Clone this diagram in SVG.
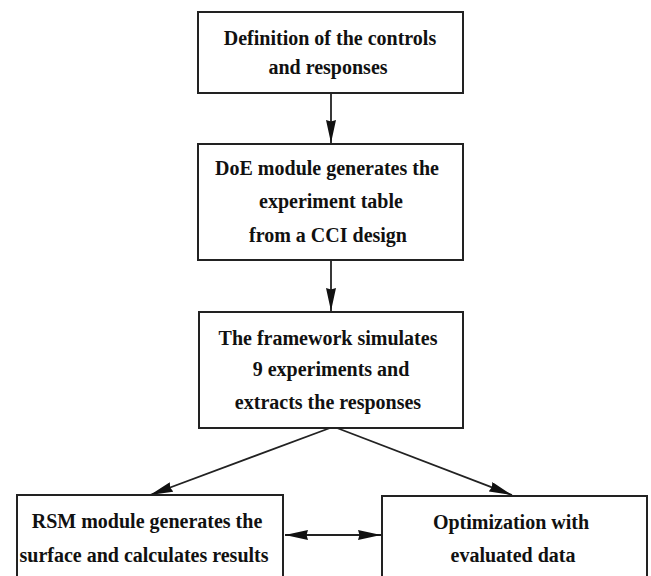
<svg xmlns="http://www.w3.org/2000/svg" width="651" height="576" viewBox="0 0 651 576">
<style>
.box{fill:#fff;stroke:#222;stroke-width:2}
.t{font-family:"Liberation Serif","Times New Roman",serif;font-weight:bold;font-size:20px;fill:#111;text-anchor:middle}
.c{stroke:#222;stroke-width:1.8;fill:none}
</style>
<defs>
<marker id="ah" viewBox="0 0 23 10" markerUnits="userSpaceOnUse" markerWidth="23" markerHeight="10" refX="23" refY="5" orient="auto-start-reverse">
<path d="M0,0 L23,5 L0,10 L1.5,5 z" fill="#111"/>
</marker>
</defs>
<rect width="651" height="576" fill="#fff"/>
<g id="connectors">
<line class="c" x1="331" y1="93" x2="331" y2="143" marker-end="url(#ah)"/>
<line class="c" x1="331" y1="260" x2="331" y2="311" marker-end="url(#ah)"/>
<line class="c" x1="330" y1="428" x2="150" y2="495" marker-end="url(#ah)"/>
<line class="c" x1="337" y1="428" x2="512" y2="495" marker-end="url(#ah)"/>
<line class="c" x1="285" y1="535" x2="381" y2="535" marker-start="url(#ah)" marker-end="url(#ah)"/>
</g>
<g id="node1">
<rect class="box" x="198" y="12" width="265" height="81"/>
<text class="t" x="330" y="45">Definition of the controls</text>
<text class="t" x="328" y="74">and responses</text>
</g>
<g id="node2">
<rect class="box" x="198" y="144" width="265" height="116"/>
<text class="t" x="327" y="175">DoE module generates the</text>
<text class="t" x="331" y="208">experiment table</text>
<text class="t" x="328" y="242">from a CCI design</text>
</g>
<g id="node3">
<rect class="box" x="199" y="312" width="264" height="116"/>
<text class="t" x="328" y="345">The framework simulates</text>
<text class="t" x="331" y="376">9 experiments and</text>
<text class="t" x="328" y="409">extracts the responses</text>
</g>
<g id="node4">
<rect class="box" x="17" y="495" width="266" height="110"/>
<text class="t" x="147" y="528">RSM module generates the</text>
<text class="t" x="144" y="562">surface and calculates results</text>
</g>
<g id="node5">
<rect class="box" x="382" y="496" width="265" height="110"/>
<text class="t" x="511" y="529">Optimization with</text>
<text class="t" x="513" y="562">evaluated data</text>
</g>
</svg>
